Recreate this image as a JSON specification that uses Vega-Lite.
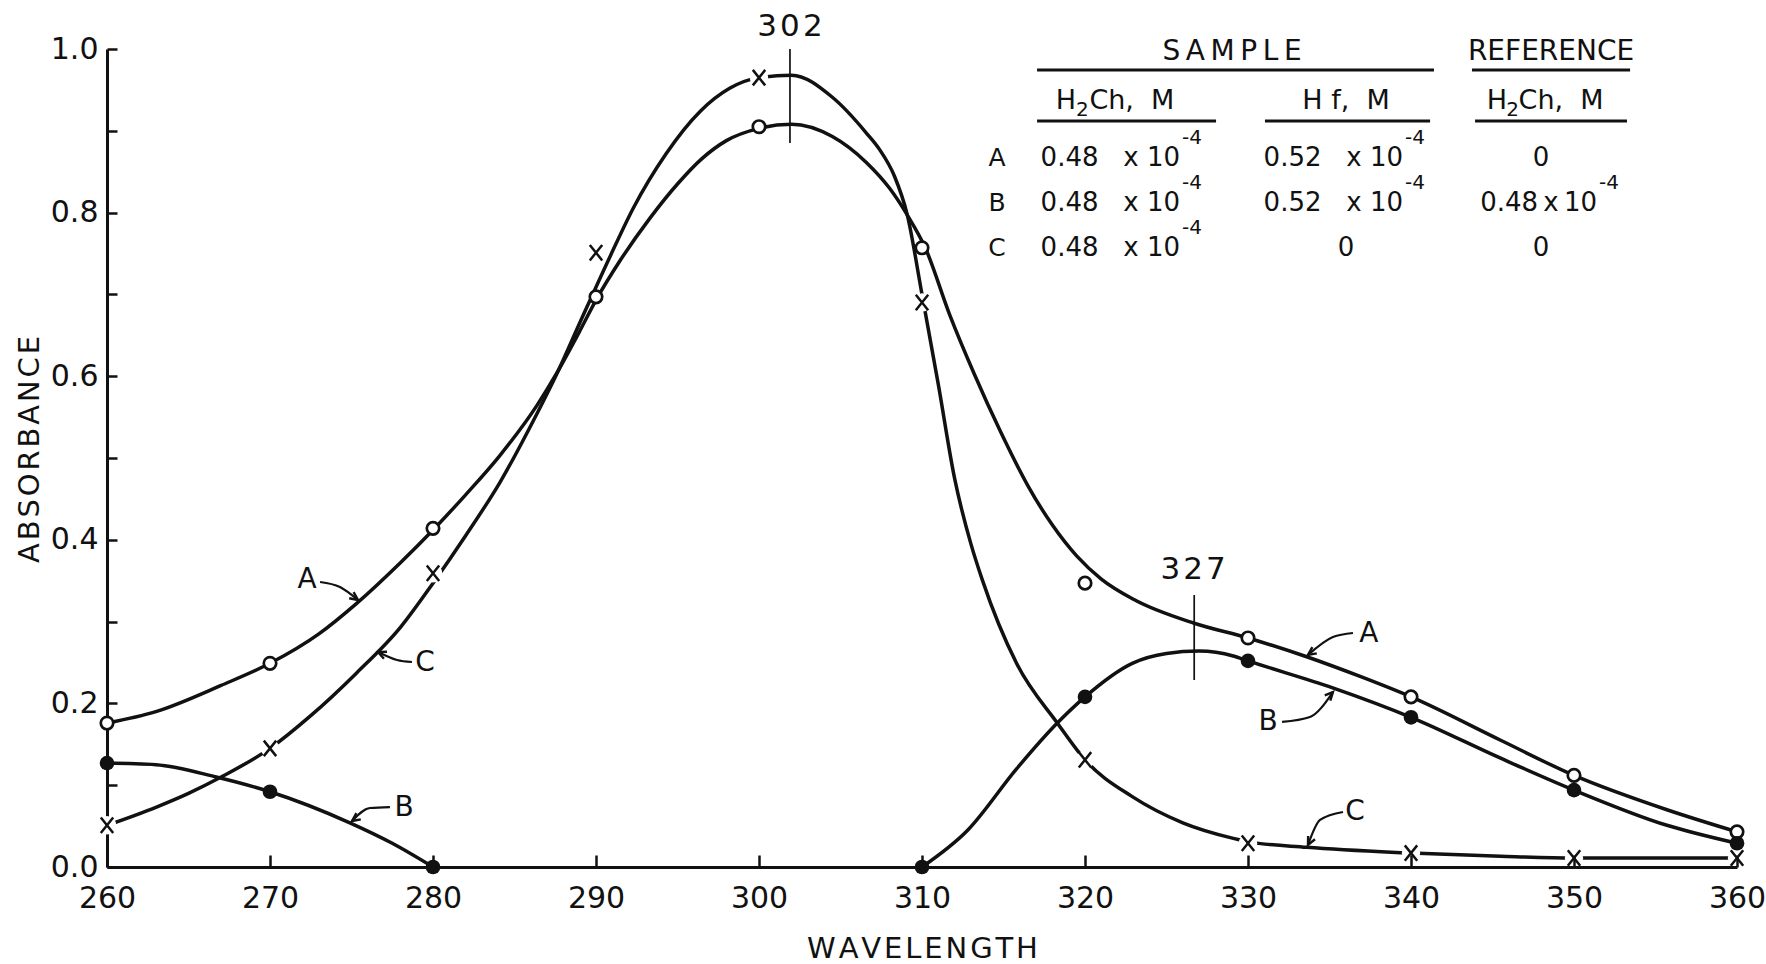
{
  "$schema": "https://vega.github.io/schema/vega-lite/v6.json",
  "width": 1630,
  "height": 818,
  "autosize": {"type": "none"},
  "padding": {"left": 107, "top": 49, "right": 29, "bottom": 97},
  "background": "white",
  "config": {
    "font": "DejaVu Sans",
    "view": {"stroke": null},
    "axis": {
      "grid": false,
      "domainColor": "#111",
      "domainWidth": 3,
      "tickColor": "#111",
      "tickWidth": 2.5,
      "labelColor": "#111",
      "titleColor": "#111",
      "labelFont": "DejaVu Sans",
      "titleFont": "DejaVu Sans",
      "titleFontWeight": "normal",
      "labelFontSize": 30,
      "titleFontSize": 29,
      "labelFlush": false
    }
  },
  "datasets": {
    "curves": [
      {"s": "A", "nm": 260, "abs": 0.176}, {"s": "A", "nm": 263, "abs": 0.19}, {"s": "A", "nm": 267, "abs": 0.222},
      {"s": "A", "nm": 270, "abs": 0.249}, {"s": "A", "nm": 273, "abs": 0.285}, {"s": "A", "nm": 275.3, "abs": 0.322},
      {"s": "A", "nm": 278, "abs": 0.372}, {"s": "A", "nm": 280, "abs": 0.412}, {"s": "A", "nm": 282, "abs": 0.455},
      {"s": "A", "nm": 284.1, "abs": 0.503}, {"s": "A", "nm": 286.4, "abs": 0.565}, {"s": "A", "nm": 287.6, "abs": 0.604},
      {"s": "A", "nm": 289, "abs": 0.655}, {"s": "A", "nm": 290, "abs": 0.693}, {"s": "A", "nm": 291.5, "abs": 0.742},
      {"s": "A", "nm": 293.3, "abs": 0.793}, {"s": "A", "nm": 295, "abs": 0.835}, {"s": "A", "nm": 296.5, "abs": 0.866},
      {"s": "A", "nm": 298, "abs": 0.888}, {"s": "A", "nm": 300, "abs": 0.903}, {"s": "A", "nm": 302, "abs": 0.908},
      {"s": "A", "nm": 304.5, "abs": 0.893}, {"s": "A", "nm": 306.6, "abs": 0.861}, {"s": "A", "nm": 308, "abs": 0.83},
      {"s": "A", "nm": 309.1, "abs": 0.797}, {"s": "A", "nm": 310.2, "abs": 0.757}, {"s": "A", "nm": 311.7, "abs": 0.675},
      {"s": "A", "nm": 313.2, "abs": 0.603}, {"s": "A", "nm": 314.8, "abs": 0.533}, {"s": "A", "nm": 316.5, "abs": 0.466},
      {"s": "A", "nm": 318, "abs": 0.418}, {"s": "A", "nm": 319.5, "abs": 0.38}, {"s": "A", "nm": 321, "abs": 0.352},
      {"s": "A", "nm": 323, "abs": 0.327}, {"s": "A", "nm": 326.7, "abs": 0.298}, {"s": "A", "nm": 330, "abs": 0.28},
      {"s": "A", "nm": 333.6, "abs": 0.257}, {"s": "A", "nm": 337, "abs": 0.232}, {"s": "A", "nm": 340, "abs": 0.208},
      {"s": "A", "nm": 345.5, "abs": 0.155}, {"s": "A", "nm": 350, "abs": 0.112}, {"s": "A", "nm": 355.7, "abs": 0.07},
      {"s": "A", "nm": 360, "abs": 0.043},

      {"s": "B1", "nm": 260, "abs": 0.127}, {"s": "B1", "nm": 263, "abs": 0.125}, {"s": "B1", "nm": 266.7, "abs": 0.11},
      {"s": "B1", "nm": 270, "abs": 0.092}, {"s": "B1", "nm": 274.9, "abs": 0.054}, {"s": "B1", "nm": 277.5, "abs": 0.029},
      {"s": "B1", "nm": 280, "abs": 0.0},

      {"s": "B2", "nm": 310, "abs": 0.0}, {"s": "B2", "nm": 312.8, "abs": 0.045}, {"s": "B2", "nm": 315.8, "abs": 0.12},
      {"s": "B2", "nm": 318.3, "abs": 0.176}, {"s": "B2", "nm": 320, "abs": 0.208}, {"s": "B2", "nm": 322.9, "abs": 0.249},
      {"s": "B2", "nm": 325, "abs": 0.261}, {"s": "B2", "nm": 327, "abs": 0.264}, {"s": "B2", "nm": 329.1, "abs": 0.258},
      {"s": "B2", "nm": 330, "abs": 0.252}, {"s": "B2", "nm": 335.2, "abs": 0.219}, {"s": "B2", "nm": 340, "abs": 0.183},
      {"s": "B2", "nm": 345.5, "abs": 0.133}, {"s": "B2", "nm": 350, "abs": 0.094}, {"s": "B2", "nm": 355.7, "abs": 0.051},
      {"s": "B2", "nm": 360, "abs": 0.029},

      {"s": "C", "nm": 260, "abs": 0.051}, {"s": "C", "nm": 263, "abs": 0.073}, {"s": "C", "nm": 265, "abs": 0.09},
      {"s": "C", "nm": 267, "abs": 0.11}, {"s": "C", "nm": 270, "abs": 0.145}, {"s": "C", "nm": 272.5, "abs": 0.185},
      {"s": "C", "nm": 275.3, "abs": 0.237}, {"s": "C", "nm": 278, "abs": 0.293}, {"s": "C", "nm": 280, "abs": 0.347},
      {"s": "C", "nm": 282, "abs": 0.405}, {"s": "C", "nm": 284.1, "abs": 0.47}, {"s": "C", "nm": 286.4, "abs": 0.555},
      {"s": "C", "nm": 287.6, "abs": 0.603}, {"s": "C", "nm": 289, "abs": 0.665}, {"s": "C", "nm": 290.9, "abs": 0.748},
      {"s": "C", "nm": 292.3, "abs": 0.806}, {"s": "C", "nm": 294.3, "abs": 0.872}, {"s": "C", "nm": 296.4, "abs": 0.924},
      {"s": "C", "nm": 298.2, "abs": 0.952}, {"s": "C", "nm": 300, "abs": 0.965}, {"s": "C", "nm": 302, "abs": 0.968},
      {"s": "C", "nm": 304.5, "abs": 0.941}, {"s": "C", "nm": 306.6, "abs": 0.897}, {"s": "C", "nm": 307.4, "abs": 0.877},
      {"s": "C", "nm": 308.3, "abs": 0.845}, {"s": "C", "nm": 309.1, "abs": 0.797}, {"s": "C", "nm": 310, "abs": 0.7},
      {"s": "C", "nm": 311, "abs": 0.59}, {"s": "C", "nm": 312, "abs": 0.475}, {"s": "C", "nm": 313, "abs": 0.395},
      {"s": "C", "nm": 313.7, "abs": 0.351}, {"s": "C", "nm": 315.8, "abs": 0.249}, {"s": "C", "nm": 318.3, "abs": 0.176},
      {"s": "C", "nm": 320, "abs": 0.131}, {"s": "C", "nm": 322.9, "abs": 0.086}, {"s": "C", "nm": 326, "abs": 0.054},
      {"s": "C", "nm": 329.1, "abs": 0.035}, {"s": "C", "nm": 330, "abs": 0.031}, {"s": "C", "nm": 333.6, "abs": 0.024},
      {"s": "C", "nm": 340, "abs": 0.017}, {"s": "C", "nm": 345.5, "abs": 0.013}, {"s": "C", "nm": 350, "abs": 0.011},
      {"s": "C", "nm": 355, "abs": 0.011}, {"s": "C", "nm": 360, "abs": 0.011}
    ],
    "openpts": [
      {"nm": 260, "abs": 0.176}, {"nm": 270, "abs": 0.249}, {"nm": 280, "abs": 0.414}, {"nm": 290, "abs": 0.697},
      {"nm": 300, "abs": 0.905}, {"nm": 310, "abs": 0.757}, {"nm": 320, "abs": 0.347}, {"nm": 330, "abs": 0.28},
      {"nm": 340, "abs": 0.208}, {"nm": 350, "abs": 0.112}, {"nm": 360, "abs": 0.043}
    ],
    "filledpts": [
      {"nm": 260, "abs": 0.127}, {"nm": 270, "abs": 0.092}, {"nm": 280, "abs": 0.0}, {"nm": 310, "abs": 0.0},
      {"nm": 320, "abs": 0.208}, {"nm": 330, "abs": 0.252}, {"nm": 340, "abs": 0.183}, {"nm": 350, "abs": 0.094},
      {"nm": 360, "abs": 0.029}
    ],
    "xpts": [
      {"nm": 260, "abs": 0.051}, {"nm": 270, "abs": 0.145}, {"nm": 280, "abs": 0.359}, {"nm": 290, "abs": 0.751},
      {"nm": 300, "abs": 0.965}, {"nm": 310, "abs": 0.69}, {"nm": 320, "abs": 0.131}, {"nm": 330, "abs": 0.029},
      {"nm": 340, "abs": 0.017}, {"nm": 350, "abs": 0.011}, {"nm": 360, "abs": 0.011}
    ],
    "peakrules": [
      {"nm": 301.9, "abs": 0.885, "abs2": 1.0},
      {"nm": 326.7, "abs": 0.2286, "abs2": 0.3325}
    ],
    "tablelines": [
      {"nm": 317.06, "nm2": 341.41, "abs": 0.9743},
      {"nm": 343.74, "nm2": 353.44, "abs": 0.9743},
      {"nm": 317.06, "nm2": 328.04, "abs": 0.912},
      {"nm": 331.04, "nm2": 341.17, "abs": 0.912},
      {"nm": 343.93, "nm2": 353.25, "abs": 0.912}
    ],
    "arrows": [
      {"id": "AL", "nm": 273.07, "abs": 0.3484}, {"id": "AL", "nm": 274.29, "abs": 0.3423}, {"id": "AL", "nm": 275.4, "abs": 0.3264},
      {"id": "CL", "nm": 278.71, "abs": 0.2506}, {"id": "CL", "nm": 277.79, "abs": 0.2531}, {"id": "CL", "nm": 276.63, "abs": 0.2628},
      {"id": "BL", "nm": 277.36, "abs": 0.0733}, {"id": "BL", "nm": 276.13, "abs": 0.0721}, {"id": "BL", "nm": 275.03, "abs": 0.0562},
      {"id": "AR", "nm": 336.44, "abs": 0.2861}, {"id": "AR", "nm": 335.21, "abs": 0.2812}, {"id": "AR", "nm": 333.68, "abs": 0.2592},
      {"id": "BR", "nm": 332.09, "abs": 0.1773}, {"id": "BR", "nm": 333.8, "abs": 0.1834}, {"id": "BR", "nm": 335.21, "abs": 0.2139},
      {"id": "CR", "nm": 335.83, "abs": 0.0672}, {"id": "CR", "nm": 334.42, "abs": 0.0575}, {"id": "CR", "nm": 333.68, "abs": 0.0269}
    ],
    "barbs": [
      {"id": "AL", "k": 0, "nm": 275.13, "abs": 0.3361}, {"id": "AL", "k": 1, "nm": 275.4, "abs": 0.3264}, {"id": "AL", "k": 2, "nm": 274.86, "abs": 0.3285},
      {"id": "CL", "k": 0, "nm": 276.99, "abs": 0.2546}, {"id": "CL", "k": 1, "nm": 276.63, "abs": 0.2628}, {"id": "CL", "k": 2, "nm": 277.18, "abs": 0.2632},
      {"id": "BL", "k": 0, "nm": 275.57, "abs": 0.0583}, {"id": "BL", "k": 1, "nm": 275.03, "abs": 0.0562}, {"id": "BL", "k": 2, "nm": 275.3, "abs": 0.0659},
      {"id": "AR", "k": 0, "nm": 334.22, "abs": 0.2612}, {"id": "AR", "k": 1, "nm": 333.68, "abs": 0.2592}, {"id": "AR", "k": 2, "nm": 333.95, "abs": 0.2687},
      {"id": "BR", "k": 0, "nm": 334.71, "abs": 0.2098}, {"id": "BR", "k": 1, "nm": 335.21, "abs": 0.2139}, {"id": "BR", "k": 2, "nm": 335.05, "abs": 0.2034},
      {"id": "CR", "k": 0, "nm": 334.11, "abs": 0.0339}, {"id": "CR", "k": 1, "nm": 333.68, "abs": 0.0269}, {"id": "CR", "k": 2, "nm": 333.69, "abs": 0.0379}
    ],
    "letters": [
      {"t": "A", "nm": 272.27, "abs": 0.351}, {"t": "C", "nm": 279.51, "abs": 0.2494}, {"t": "B", "nm": 278.22, "abs": 0.0721},
      {"t": "A", "nm": 337.42, "abs": 0.2848}, {"t": "B", "nm": 331.23, "abs": 0.1773}, {"t": "C", "nm": 336.56, "abs": 0.0672}
    ],
    "peaks": [
      {"t": "3\u200a0\u200a2", "nm": 301.9, "abs": 1.027},
      {"t": "3\u200a2\u200a7", "nm": 326.63, "abs": 0.363}
    ],
    "heads": [
      {"t": "S\u2009A\u2009M\u2009P\u2009L\u2009E", "nm": 329.02, "abs": 0.9963},
      {"t": "REFERENCE", "nm": 348.59, "abs": 0.9963}
    ],
    "subheadsCenter": [
      {"t": "H\u00a0f,\u00a0\u00a0M", "nm": 336.01, "abs": 0.9364}
    ],
    "subheadsH": [
      {"t": "H", "nm": 319.45, "abs": 0.9364},
      {"t": "H", "nm": 345.89, "abs": 0.9364}
    ],
    "subheads2": [
      {"t": "2", "nm": 319.84, "abs": 0.9255},
      {"t": "2", "nm": 346.23, "abs": 0.9255}
    ],
    "subheadsRest": [
      {"t": "Ch,\u00a0\u00a0M", "nm": 320.27, "abs": 0.9364},
      {"t": "Ch,\u00a0\u00a0M", "nm": 346.6, "abs": 0.9364}
    ],
    "rowlabels": [
      {"t": "A", "nm": 314.6, "abs": 0.8667},
      {"t": "B", "nm": 314.6, "abs": 0.8117},
      {"t": "C", "nm": 314.6, "abs": 0.7567}
    ],
    "vals": [
      {"t": "0.48\u00a0\u00a0\u00a0x\u00a010", "nm": 325.83, "abs": 0.8667},
      {"t": "0.48\u00a0\u00a0\u00a0x\u00a010", "nm": 325.83, "abs": 0.8117},
      {"t": "0.48\u00a0\u00a0\u00a0x\u00a010", "nm": 325.83, "abs": 0.7567},
      {"t": "0.52\u00a0\u00a0\u00a0x\u00a010", "nm": 339.51, "abs": 0.8667},
      {"t": "0.52\u00a0\u00a0\u00a0x\u00a010", "nm": 339.51, "abs": 0.8117},
      {"t": "0.48\u2009x\u200910", "nm": 351.41, "abs": 0.8117}
    ],
    "zeros": [
      {"t": "0", "nm": 336.01, "abs": 0.7567},
      {"t": "0", "nm": 347.98, "abs": 0.8667},
      {"t": "0", "nm": 347.98, "abs": 0.7567}
    ],
    "exps": [
      {"t": "-4", "nm": 325.95, "abs": 0.891},
      {"t": "-4", "nm": 325.95, "abs": 0.836},
      {"t": "-4", "nm": 325.95, "abs": 0.781},
      {"t": "-4", "nm": 339.63, "abs": 0.891},
      {"t": "-4", "nm": 339.63, "abs": 0.836},
      {"t": "-4", "nm": 351.53, "abs": 0.836}
    ]
  },
  "encoding": {
    "x": {
      "field": "nm",
      "type": "quantitative",
      "scale": {"domain": [260, 360], "nice": false, "zero": false},
      "axis": {
        "values": [260, 270, 280, 290, 300, 310, 320, 330, 340, 350, 360],
        "format": "d",
        "tickSize": -12,
        "labelPadding": 28,
        "title": "W\u200aA\u200aV\u200aE\u200aL\u200aE\u200aN\u200aG\u200aT\u200aH",
        "titlePadding": 21,
        "zindex": 1
      }
    },
    "y": {
      "field": "abs",
      "type": "quantitative",
      "scale": {"domain": [0, 1], "nice": false, "zero": true},
      "axis": {
        "values": [0, 0.1, 0.2, 0.3, 0.4, 0.5, 0.6, 0.7, 0.8, 0.9, 1.0],
        "labelExpr": "round(datum.value * 10) % 2 == 0 ? format(datum.value, '.1f') : ''",
        "tickSize": -10,
        "labelPadding": 19,
        "title": "A\u200aB\u200aS\u200aO\u200aR\u200aB\u200aA\u200aN\u200aC\u200aE",
        "titlePadding": 6,
        "titleY": 400
      }
    }
  },
  "layer": [
    {
      "data": {"name": "curves"},
      "mark": {"type": "line", "interpolate": "monotone", "color": "#111", "strokeWidth": 3.5},
      "encoding": {"detail": {"field": "s"}}
    },
    {
      "data": {"name": "peakrules"},
      "mark": {"type": "rule", "color": "#111", "strokeWidth": 1.7},
      "encoding": {"y2": {"field": "abs2"}}
    },
    {
      "data": {"name": "tablelines"},
      "mark": {"type": "rule", "color": "#111", "strokeWidth": 3},
      "encoding": {"x2": {"field": "nm2"}}
    },
    {
      "data": {"name": "arrows"},
      "mark": {"type": "line", "interpolate": "monotone", "color": "#111", "strokeWidth": 2.2},
      "encoding": {"detail": {"field": "id"}}
    },
    {
      "data": {"name": "barbs"},
      "mark": {"type": "line", "color": "#111", "strokeWidth": 2.4, "strokeJoin": "miter"},
      "encoding": {"detail": {"field": "id"}, "order": {"field": "k"}}
    },
    {
      "data": {"name": "xpts"},
      "mark": {"type": "point", "shape": "circle", "size": 340, "filled": true, "color": "white", "opacity": 1}
    },
    {
      "data": {"name": "xpts"},
      "mark": {"type": "point", "shape": "M-0.8,-1L0.8,1M-0.8,1L0.8,-1", "size": 240, "filled": false, "stroke": "#111", "strokeWidth": 2.5, "opacity": 1}
    },
    {
      "data": {"name": "openpts"},
      "mark": {"type": "point", "shape": "circle", "size": 155, "filled": true, "fill": "white", "stroke": "#111", "strokeWidth": 2.7, "opacity": 1}
    },
    {
      "data": {"name": "filledpts"},
      "mark": {"type": "point", "shape": "circle", "size": 215, "filled": true, "color": "#111", "opacity": 1}
    },
    {
      "data": {"name": "letters"},
      "mark": {"type": "text", "fontSize": 28, "align": "center", "baseline": "middle", "color": "#111"},
      "encoding": {"text": {"field": "t"}}
    },
    {
      "data": {"name": "peaks"},
      "mark": {"type": "text", "fontSize": 31, "align": "center", "baseline": "middle", "color": "#111"},
      "encoding": {"text": {"field": "t"}}
    },
    {
      "data": {"name": "heads"},
      "mark": {"type": "text", "fontSize": 28, "align": "center", "baseline": "middle", "color": "#111"},
      "encoding": {"text": {"field": "t"}}
    },
    {
      "data": {"name": "subheadsCenter"},
      "mark": {"type": "text", "fontSize": 27, "align": "center", "baseline": "middle", "color": "#111"},
      "encoding": {"text": {"field": "t"}}
    },
    {
      "data": {"name": "subheadsH"},
      "mark": {"type": "text", "fontSize": 27, "align": "right", "baseline": "middle", "color": "#111"},
      "encoding": {"text": {"field": "t"}}
    },
    {
      "data": {"name": "subheads2"},
      "mark": {"type": "text", "fontSize": 20, "align": "center", "baseline": "middle", "color": "#111"},
      "encoding": {"text": {"field": "t"}}
    },
    {
      "data": {"name": "subheadsRest"},
      "mark": {"type": "text", "fontSize": 27, "align": "left", "baseline": "middle", "color": "#111"},
      "encoding": {"text": {"field": "t"}}
    },
    {
      "data": {"name": "rowlabels"},
      "mark": {"type": "text", "fontSize": 25, "align": "center", "baseline": "middle", "color": "#111"},
      "encoding": {"text": {"field": "t"}}
    },
    {
      "data": {"name": "vals"},
      "mark": {"type": "text", "fontSize": 26, "align": "right", "baseline": "middle", "color": "#111"},
      "encoding": {"text": {"field": "t"}}
    },
    {
      "data": {"name": "zeros"},
      "mark": {"type": "text", "fontSize": 26, "align": "center", "baseline": "middle", "color": "#111"},
      "encoding": {"text": {"field": "t"}}
    },
    {
      "data": {"name": "exps"},
      "mark": {"type": "text", "fontSize": 20, "align": "left", "baseline": "middle", "color": "#111"},
      "encoding": {"text": {"field": "t"}}
    }
  ]
}
